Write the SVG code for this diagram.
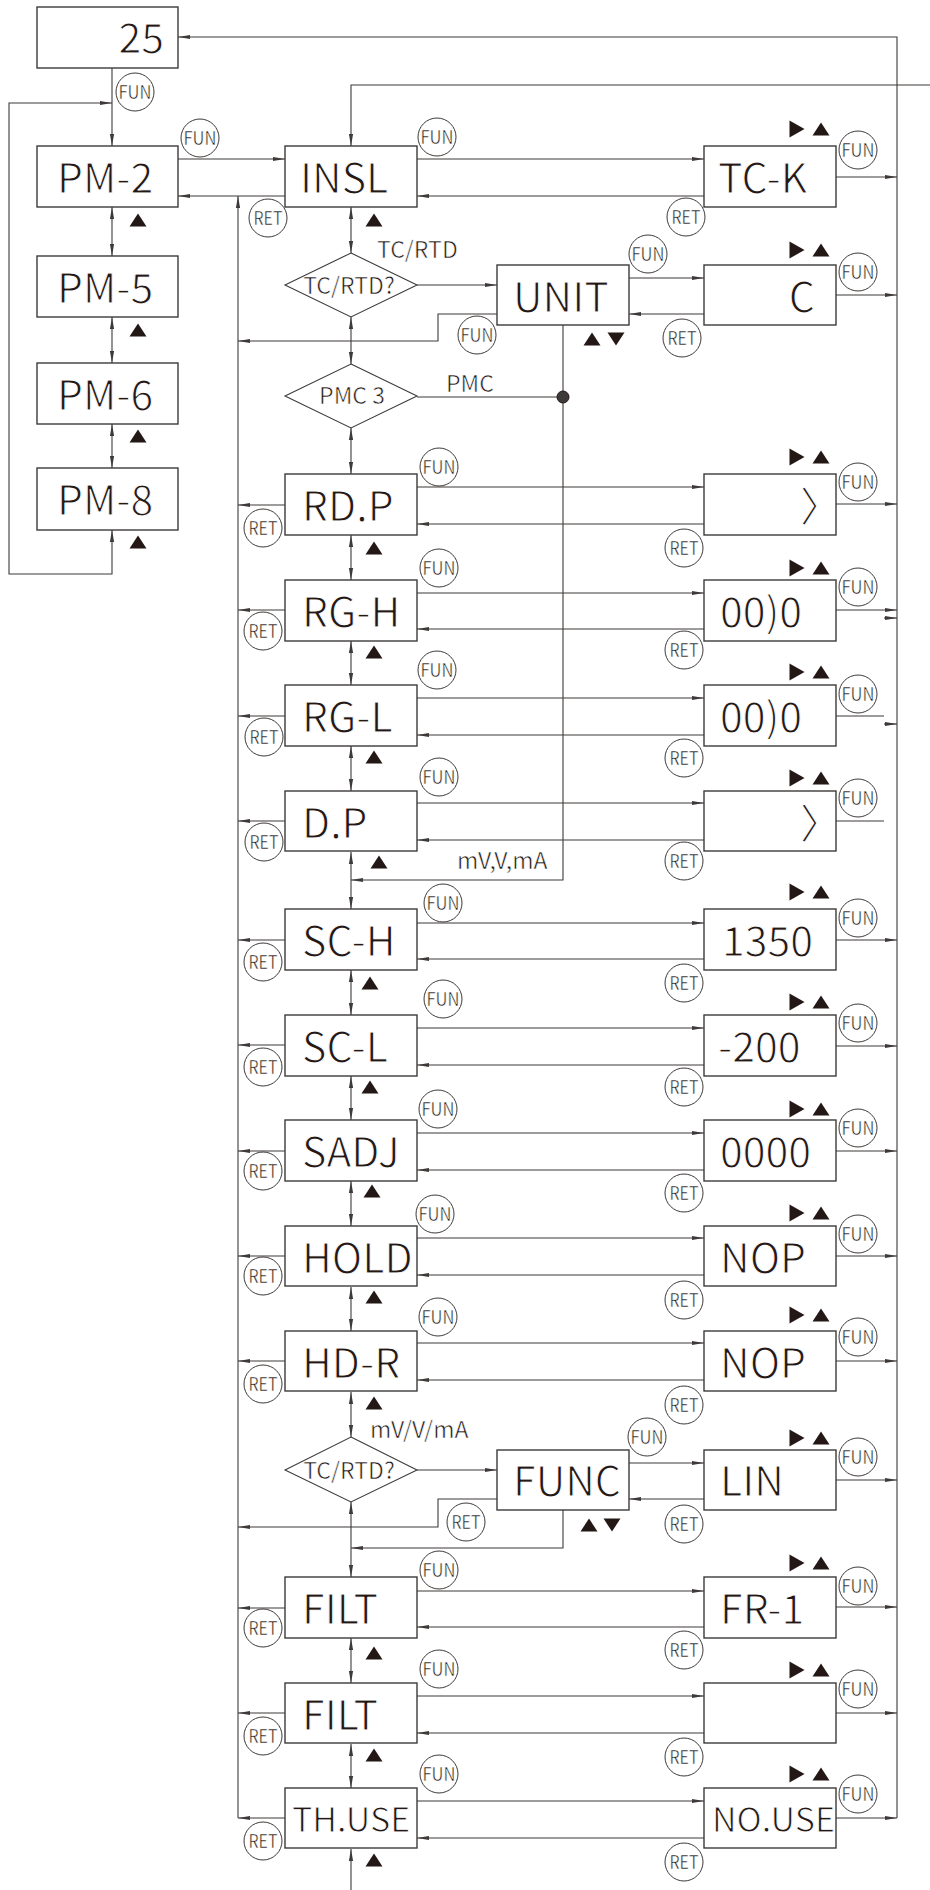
<svg xmlns="http://www.w3.org/2000/svg" xmlns:xlink="http://www.w3.org/1999/xlink" width="930" height="1890" viewBox="0 0 930 1890">
<style>
.box{fill:#fff;stroke:#3e3a39;stroke-width:1.4}
.dia{fill:#fff;stroke:#3e3a39;stroke-width:1.1}
.t{font-family:"Noto Sans CJK JP","Noto Sans",sans-serif;fill:#231815;stroke:#fff;stroke-linejoin:round}
.big{font-size:41px;stroke-width:1}
.mid{font-size:34px;stroke-width:0.9}
.sm{font-size:23px;stroke-width:0.55}
.ci{fill:#fff;stroke:#3e3a39;stroke-width:1}
.ct{font-family:"Noto Sans CJK JP","Noto Sans",sans-serif;font-size:18px;fill:#231815;text-anchor:middle;stroke:#fff;stroke-width:0.45;stroke-linejoin:round}
.ln{fill:none;stroke:#3e3a39;stroke-width:1.1}
.a{marker-end:url(#ah)}
.d{marker-start:url(#ah);marker-end:url(#ah)}
.tri{fill:#231815}
</style>
<defs>
<marker id="ah" viewBox="0 0 12 6" refX="12" refY="3" markerWidth="12" markerHeight="6" markerUnits="userSpaceOnUse" orient="auto-start-reverse"><path d="M0,0.9 L12,3 L0,5.1 z" fill="#3e3a39"/></marker>
<path id="up" d="M0,-6.5 L8.5,6.5 L-8.5,6.5 z"/>
<path id="dn" d="M0,6.5 L8.5,-6.5 L-8.5,-6.5 z"/>
<path id="rt" d="M-7.5,-8.5 L7.5,0 L-7.5,8.5 z"/>
<g id="fun"><circle class="ci" r="19"/><text class="ct" y="6.5" textLength="33" lengthAdjust="spacingAndGlyphs">FUN</text></g>
<g id="ret"><circle class="ci" r="19"/><text class="ct" y="6.5" textLength="29" lengthAdjust="spacingAndGlyphs">RET</text></g>
<g id="ru"><use xlink:href="#rt" x="-12"/><use xlink:href="#up" x="12"/></g>
</defs>

<g id="connectors">
<path class="ln a" d="M897,1818 V37 H178"/>
<path class="ln a" d="M930,85 H351 V146"/>
<path class="ln a" d="M112,68 V146"/>
<path class="ln d" d="M112,530 V574 H9 V103 H112"/>
<path class="ln d" d="M112,207 V256"/>
<path class="ln d" d="M112,317 V363"/>
<path class="ln d" d="M112,424 V468"/>
<path class="ln a" d="M238,1818 V196"/>
<path class="ln a" d="M178,159 H285"/>
<path class="ln a" d="M285,196 H178"/>
<path class="ln a" d="M417,159 H704"/>
<path class="ln a" d="M704,196 H417"/>
<path class="ln a" d="M836,177 H897"/>
<path class="ln a" d="M417,285 H497"/>
<path class="ln a" d="M629,278 H704"/>
<path class="ln a" d="M704,314 H629"/>
<path class="ln a" d="M836,295 H897"/>
<path class="ln a" d="M497,314 H438 V341 H238"/>
<path class="ln" d="M417,397 H563"/>
<path class="ln a" d="M563,325 V880 H351"/>
<path class="ln a" d="M417,1470 H497"/>
<path class="ln a" d="M629,1463 H704"/>
<path class="ln a" d="M704,1499 H629"/>
<path class="ln a" d="M836,1480 H897"/>
<path class="ln a" d="M497,1499 H438 V1527 H238"/>
<path class="ln a" d="M563,1510 V1548 H351"/>
<path class="ln d" d="M351,207 V253"/>
<path class="ln d" d="M351,317 V364"/>
<path class="ln d" d="M351,428 V474"/>
<path class="ln d" d="M351,535 V580"/>
<path class="ln d" d="M351,641 V685"/>
<path class="ln d" d="M351,746 V791"/>
<path class="ln d" d="M351,852 V909"/>
<path class="ln d" d="M351,970 V1015"/>
<path class="ln d" d="M351,1076 V1120"/>
<path class="ln d" d="M351,1181 V1226"/>
<path class="ln d" d="M351,1287 V1331"/>
<path class="ln d" d="M351,1392 V1437"/>
<path class="ln d" d="M351,1502 V1577"/>
<path class="ln d" d="M351,1638 V1683"/>
<path class="ln d" d="M351,1744 V1788"/>
<path class="ln a" d="M351,1890 V1849"/>
<path class="ln a" d="M417,487 H704"/><path class="ln a" d="M704,524 H417"/><path class="ln a" d="M285,505 H238"/><path class="ln a" d="M836,504 H897"/>
<path class="ln a" d="M417,593 H704"/><path class="ln a" d="M704,629 H417"/><path class="ln a" d="M285,610 H238"/><path class="ln a" d="M836,610 H897"/><path class="ln a" d="M884,618 H897"/>
<path class="ln a" d="M417,698 H704"/><path class="ln a" d="M704,735 H417"/><path class="ln a" d="M285,716 H238"/><path class="ln" d="M836,716 H884"/><path class="ln a" d="M884,724 H897"/>
<path class="ln a" d="M417,803 H704"/><path class="ln a" d="M704,840 H417"/><path class="ln a" d="M285,821 H238"/><path class="ln" d="M836,821 H884"/>
<path class="ln a" d="M417,923 H704"/><path class="ln a" d="M704,959 H417"/><path class="ln a" d="M285,940 H238"/><path class="ln a" d="M836,940 H897"/>
<path class="ln a" d="M417,1028 H704"/><path class="ln a" d="M704,1065 H417"/><path class="ln a" d="M285,1045 H238"/><path class="ln a" d="M836,1046 H897"/>
<path class="ln a" d="M417,1133 H704"/><path class="ln a" d="M704,1170 H417"/><path class="ln a" d="M285,1151 H238"/><path class="ln a" d="M836,1151 H897"/>
<path class="ln a" d="M417,1238 H704"/><path class="ln a" d="M704,1275 H417"/><path class="ln a" d="M285,1256 H238"/><path class="ln a" d="M836,1256 H897"/>
<path class="ln a" d="M417,1343 H704"/><path class="ln a" d="M704,1380 H417"/><path class="ln a" d="M285,1361 H238"/><path class="ln a" d="M836,1361 H897"/>
<path class="ln a" d="M417,1591 H704"/><path class="ln a" d="M704,1627 H417"/><path class="ln a" d="M285,1608 H238"/><path class="ln a" d="M836,1607 H897"/>
<path class="ln a" d="M417,1696 H704"/><path class="ln a" d="M704,1733 H417"/><path class="ln a" d="M285,1713 H238"/><path class="ln a" d="M836,1713 H897"/>
<path class="ln a" d="M417,1801 H704"/><path class="ln a" d="M704,1838 H417"/><path class="ln a" d="M285,1818 H238"/><path class="ln a" d="M836,1818 H897"/>
<circle cx="563" cy="397" r="6" fill="#3e3a39" stroke="#231815" stroke-width="1"/>
<use xlink:href="#fun" x="135" y="92"/>
<use xlink:href="#fun" x="200" y="138"/>
<use xlink:href="#ret" x="268" y="218"/>
<use xlink:href="#fun" x="437" y="137"/>
<use xlink:href="#ret" x="686" y="217"/>
<use xlink:href="#fun" x="648" y="254"/>
<use xlink:href="#ret" x="682" y="338"/>
<use xlink:href="#fun" x="477" y="335"/>
<use xlink:href="#fun" x="647" y="1437"/>
<use xlink:href="#ret" x="466" y="1522"/>
<use xlink:href="#ret" x="684" y="1524"/>
<text class="t sm" x="377" y="258">TC/RTD</text>
<text class="t sm" x="446" y="392">PMC</text>
<text class="t sm" x="457" y="869">mV,V,mA</text>
<text class="t sm" x="370" y="1438">mV/V/mA</text>
<g class="tri">
<use xlink:href="#up" x="592" y="339"/><use xlink:href="#dn" x="616" y="339"/>
<use xlink:href="#up" x="589" y="1525"/><use xlink:href="#dn" x="612" y="1525"/>
</g>
</g>

<g id="n25"><rect class="box" x="37" y="7" width="141" height="61"/><text class="t big" x="164" y="53" text-anchor="end">25</text></g>
<g id="pm2"><rect class="box" x="37" y="146" width="141" height="61"/><text class="t big" x="57" y="193">PM-2</text><use class="tri" xlink:href="#up" x="138" y="220"/></g>
<g id="pm5"><rect class="box" x="37" y="256" width="141" height="61"/><text class="t big" x="57" y="303">PM-5</text><use class="tri" xlink:href="#up" x="138" y="330"/></g>
<g id="pm6"><rect class="box" x="37" y="363" width="141" height="61"/><text class="t big" x="57" y="410">PM-6</text><use class="tri" xlink:href="#up" x="138" y="436"/></g>
<g id="pm8"><rect class="box" x="37" y="468" width="141" height="62"/><text class="t big" x="57" y="515">PM-8</text><use class="tri" xlink:href="#up" x="138" y="542"/></g>

<g id="insl"><rect class="box" x="285" y="146" width="132" height="61"/><text class="t big" x="300" y="193">INSL</text><use class="tri" xlink:href="#up" x="374" y="220"/></g>
<g id="tck"><rect class="box" x="704" y="146" width="132" height="61"/><text class="t big" x="718" y="193">TC-K</text><use class="tri" xlink:href="#ru" x="809" y="129"/><use xlink:href="#fun" x="858" y="150"/></g>
<g id="dia1"><path class="dia" d="M351,253 L417,285 L351,317 L285,285 z"/><text class="t sm" x="349" y="294" text-anchor="middle">TC/RTD?</text></g>
<g id="unit"><rect class="box" x="497" y="265" width="132" height="60"/><text class="t big" x="513" y="312">UNIT</text></g>
<g id="c"><rect class="box" x="704" y="265" width="132" height="60"/><text class="t big" x="815" y="312" text-anchor="end">C</text><use class="tri" xlink:href="#ru" x="809" y="250"/><use xlink:href="#fun" x="858" y="272"/></g>
<g id="pmc3"><path class="dia" d="M351,364 L417,396 L351,428 L285,396 z"/><text class="t sm" x="352" y="404" text-anchor="middle">PMC 3</text></g>

<g id="rdp"><rect class="box" x="285" y="474" width="132" height="61"/><text class="t big" x="302" y="521">RD.P</text><use class="tri" xlink:href="#up" x="374" y="548"/><use xlink:href="#fun" x="439" y="467"/><use xlink:href="#ret" x="263" y="528"/></g>
<g id="rdp-v"><rect class="box" x="704" y="474" width="132" height="61"/><text class="t big" x="800" y="522">〉</text><use class="tri" xlink:href="#ru" x="809" y="457"/><use xlink:href="#fun" x="858" y="482"/><use xlink:href="#ret" x="684" y="548"/></g>

<g id="rgh"><rect class="box" x="285" y="580" width="132" height="61"/><text class="t big" x="302" y="627">RG-H</text><use class="tri" xlink:href="#up" x="374" y="652"/><use xlink:href="#fun" x="439" y="568"/><use xlink:href="#ret" x="263" y="631"/></g>
<g id="rgh-v"><rect class="box" x="704" y="580" width="132" height="61"/><text class="t big" x="720" y="627">00)0</text><use class="tri" xlink:href="#ru" x="809" y="568"/><use xlink:href="#fun" x="858" y="587"/><use xlink:href="#ret" x="684" y="650"/></g>

<g id="rgl"><rect class="box" x="285" y="685" width="132" height="61"/><text class="t big" x="302" y="732">RG-L</text><use class="tri" xlink:href="#up" x="374" y="757"/><use xlink:href="#fun" x="437" y="670"/><use xlink:href="#ret" x="264" y="737"/></g>
<g id="rgl-v"><rect class="box" x="704" y="685" width="132" height="61"/><text class="t big" x="720" y="732">00)0</text><use class="tri" xlink:href="#ru" x="809" y="672"/><use xlink:href="#fun" x="858" y="694"/><use xlink:href="#ret" x="684" y="758"/></g>

<g id="dp"><rect class="box" x="285" y="791" width="132" height="60"/><text class="t big" x="302" y="838">D.P</text><use class="tri" xlink:href="#up" x="379" y="862"/><use xlink:href="#fun" x="439" y="777"/><use xlink:href="#ret" x="264" y="842"/></g>
<g id="dp-v"><rect class="box" x="704" y="791" width="132" height="60"/><text class="t big" x="800" y="839">〉</text><use class="tri" xlink:href="#ru" x="809" y="778"/><use xlink:href="#fun" x="858" y="798"/><use xlink:href="#ret" x="684" y="861"/></g>

<g id="sch"><rect class="box" x="285" y="909" width="132" height="61"/><text class="t big" x="302" y="956">SC-H</text><use class="tri" xlink:href="#up" x="370" y="983"/><use xlink:href="#fun" x="443" y="903"/><use xlink:href="#ret" x="263" y="962"/></g>
<g id="sch-v"><rect class="box" x="704" y="909" width="132" height="61"/><text class="t big" x="722" y="956">1350</text><use class="tri" xlink:href="#ru" x="809" y="892"/><use xlink:href="#fun" x="858" y="918"/><use xlink:href="#ret" x="684" y="983"/></g>

<g id="scl"><rect class="box" x="285" y="1015" width="132" height="61"/><text class="t big" x="302" y="1062">SC-L</text><use class="tri" xlink:href="#up" x="370" y="1087"/><use xlink:href="#fun" x="443" y="999"/><use xlink:href="#ret" x="263" y="1067"/></g>
<g id="scl-v"><rect class="box" x="704" y="1015" width="132" height="61"/><text class="t big" x="718" y="1062">-200</text><use class="tri" xlink:href="#ru" x="809" y="1002"/><use xlink:href="#fun" x="858" y="1023"/><use xlink:href="#ret" x="684" y="1087"/></g>

<g id="sadj"><rect class="box" x="285" y="1120" width="132" height="61"/><text class="t big" x="302" y="1167">SADJ</text><use class="tri" xlink:href="#up" x="372" y="1191"/><use xlink:href="#fun" x="438" y="1109"/><use xlink:href="#ret" x="263" y="1171"/></g>
<g id="sadj-v"><rect class="box" x="704" y="1120" width="132" height="61"/><text class="t big" x="720" y="1167">0000</text><use class="tri" xlink:href="#ru" x="809" y="1109"/><use xlink:href="#fun" x="858" y="1128"/><use xlink:href="#ret" x="684" y="1193"/></g>

<g id="hold"><rect class="box" x="285" y="1226" width="132" height="60"/><text class="t big" x="302" y="1273">HOLD</text><use class="tri" xlink:href="#up" x="374" y="1297"/><use xlink:href="#fun" x="435" y="1214"/><use xlink:href="#ret" x="263" y="1276"/></g>
<g id="hold-v"><rect class="box" x="704" y="1226" width="132" height="60"/><text class="t big" x="720" y="1273">NOP</text><use class="tri" xlink:href="#ru" x="809" y="1213"/><use xlink:href="#fun" x="858" y="1234"/><use xlink:href="#ret" x="684" y="1300"/></g>

<g id="hdr"><rect class="box" x="285" y="1331" width="132" height="60"/><text class="t big" x="302" y="1378">HD-R</text><use class="tri" xlink:href="#up" x="374" y="1403"/><use xlink:href="#fun" x="438" y="1317"/><use xlink:href="#ret" x="263" y="1384"/></g>
<g id="hdr-v"><rect class="box" x="704" y="1331" width="132" height="60"/><text class="t big" x="720" y="1378">NOP</text><use class="tri" xlink:href="#ru" x="809" y="1315"/><use xlink:href="#fun" x="858" y="1337"/><use xlink:href="#ret" x="684" y="1405"/></g>

<g id="dia2"><path class="dia" d="M351,1437 L417,1470 L351,1502 L285,1470 z"/><text class="t sm" x="349" y="1479" text-anchor="middle">TC/RTD?</text></g>
<g id="func"><rect class="box" x="497" y="1450" width="132" height="60"/><text class="t big" x="513" y="1496">FUNC</text></g>
<g id="lin"><rect class="box" x="704" y="1450" width="132" height="60"/><text class="t big" x="720" y="1496">LIN</text><use class="tri" xlink:href="#ru" x="809" y="1438"/><use xlink:href="#fun" x="858" y="1457"/></g>

<g id="filt1"><rect class="box" x="285" y="1577" width="132" height="61"/><text class="t big" x="302" y="1624">FILT</text><use class="tri" xlink:href="#up" x="374" y="1653"/><use xlink:href="#fun" x="439" y="1570"/><use xlink:href="#ret" x="263" y="1628"/></g>
<g id="filt1-v"><rect class="box" x="704" y="1577" width="132" height="61"/><text class="t big" x="720" y="1624">FR-1</text><use class="tri" xlink:href="#ru" x="809" y="1563"/><use xlink:href="#fun" x="858" y="1586"/><use xlink:href="#ret" x="684" y="1650"/></g>

<g id="filt2"><rect class="box" x="285" y="1683" width="132" height="60"/><text class="t big" x="302" y="1730">FILT</text><use class="tri" xlink:href="#up" x="374" y="1755"/><use xlink:href="#fun" x="439" y="1669"/><use xlink:href="#ret" x="263" y="1736"/></g>
<g id="filt2-v"><rect class="box" x="704" y="1683" width="132" height="60"/><use class="tri" xlink:href="#ru" x="809" y="1670"/><use xlink:href="#fun" x="858" y="1689"/><use xlink:href="#ret" x="684" y="1757"/></g>

<g id="thuse"><rect class="box" x="285" y="1788" width="132" height="60"/><text class="t mid" x="292" y="1832">TH.USE</text><use class="tri" xlink:href="#up" x="374" y="1860"/><use xlink:href="#fun" x="439" y="1774"/><use xlink:href="#ret" x="263" y="1841"/></g>
<g id="nouse"><rect class="box" x="704" y="1788" width="132" height="60"/><text class="t mid" x="712" y="1832">NO.USE</text><use class="tri" xlink:href="#ru" x="809" y="1774"/><use xlink:href="#fun" x="858" y="1794"/><use xlink:href="#ret" x="684" y="1862"/></g>
</svg>
